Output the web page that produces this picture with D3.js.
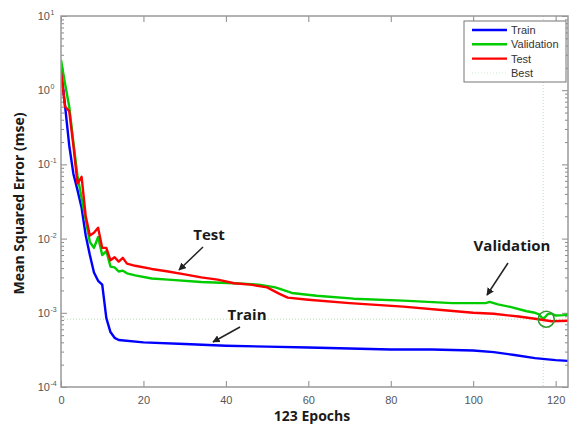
<!DOCTYPE html>
<html>
<head>
<meta charset="utf-8">
<script src="https://cdn.jsdelivr.net/npm/d3@7"></script>
<style>
  body { margin: 0; background: #fff; }
  svg text { font-family: "Liberation Sans", Arial, sans-serif; }
  .bold { font-family: "Open Sans", "Liberation Sans", sans-serif !important; font-weight: 700; }
</style>
</head>
<body>
<div id="chart"></div>
<script>
// values: [epoch, mse]
const trainData = [[0,1.93],[1,0.6],[2,0.18],[3,0.075],[4,0.045],[5,0.026],[6,0.011],[7,0.006],[8,0.0035],[9,0.0027],[10,0.0024],[11,0.00085],[12,0.00055],[13,0.00046],[14,0.00043],[20,0.0004],[30,0.00038],[40,0.00036],[50,0.00035],[60,0.00034],[70,0.00033],[80,0.00032],[90,0.00032],[100,0.00031],[105,0.000295],[110,0.00027],[115,0.000245],[120,0.00023],[123,0.000225]];
const validationData = [[0,2.55],[1,1.2],[2,0.6],[3,0.2],[4,0.07],[5,0.035],[6,0.018],[7,0.009],[8,0.0075],[9,0.0105],[10,0.006],[11,0.0068],[12,0.0042],[13,0.0041],[14,0.0036],[15,0.0037],[16,0.0034],[18,0.0032],[22,0.0029],[26,0.0028],[34,0.0026],[42,0.0025],[48,0.0024],[52,0.0022],[56,0.00185],[62,0.0017],[71,0.00155],[83,0.00146],[95,0.00135],[103,0.00135],[104,0.0014],[106,0.0013],[109,0.0012],[113,0.00105],[115,0.001],[116,0.00095],[117,0.00082],[118,0.00095],[119,0.00098],[120,0.00092],[122,0.00093],[123,0.00095]];
const testData = [[0,1.76],[1,0.6],[2,0.52],[3,0.18],[4,0.055],[5,0.068],[6,0.02],[7,0.011],[8,0.012],[9,0.014],[10,0.0075],[11,0.0075],[12,0.0051],[13,0.0056],[14,0.0049],[15,0.0055],[16,0.0046],[18,0.0043],[22,0.0039],[26,0.0036],[30,0.0033],[34,0.003],[38,0.0028],[42,0.0025],[46,0.0024],[50,0.0022],[53,0.0018],[55,0.0016],[60,0.0015],[70,0.00135],[83,0.00121],[93,0.00108],[100,0.001],[105,0.00097],[111,0.00089],[115,0.00083],[119,0.00077],[123,0.00078]];
const bestEpoch = 117;
const bestValue = 0.00082;
const xTicks = [0, 20, 40, 60, 80, 100, 120];
const yExponents = [-4, -3, -2, -1, 0, 1];
const legendLabels = ["Train", "Validation", "Test", "Best"];

const W = 570, H = 426;
const margin = {top: 16, right: 2, bottom: 39, left: 61};

const svg = d3.select("#chart").append("svg")
    .attr("width", W).attr("height", H);

const x = d3.scaleLinear().domain([0, 123]).range([margin.left, W - margin.right]);
const y = d3.scaleLog().domain([1e-4, 10]).range([H - margin.bottom, margin.top]);

svg.append("defs").append("clipPath").attr("id", "clip")
    .append("rect")
    .attr("x", x(0)).attr("y", y(10))
    .attr("width", x(123) - x(0)).attr("height", y(1e-4) - y(10));

// minor and major y ticks, left and right
let minor = [];
yExponents.slice(0, -1).forEach(e => {
    for (let k = 2; k <= 9; k++) minor.push(k * Math.pow(10, e));
});
const majors = yExponents.map(e => Math.pow(10, e));
const tickColor = "#8a8a8a";

svg.append("g").attr("transform", `translate(${x(0)},0)`)
    .call(d3.axisLeft(y).tickValues(minor).tickSize(-3).tickFormat(""))
    .call(g => g.select(".domain").remove());
svg.append("g").attr("transform", `translate(${x(0)},0)`)
    .call(d3.axisLeft(y).tickValues(majors).tickSize(-6).tickFormat(""))
    .call(g => g.select(".domain").remove());
svg.append("g").attr("transform", `translate(${x(123)},0)`)
    .call(d3.axisRight(y).tickValues(minor).tickSize(-3).tickFormat(""))
    .call(g => g.select(".domain").remove());
svg.append("g").attr("transform", `translate(${x(123)},0)`)
    .call(d3.axisRight(y).tickValues(majors).tickSize(-6).tickFormat(""))
    .call(g => g.select(".domain").remove());

// x ticks bottom and top
svg.append("g").attr("transform", `translate(0,${y(1e-4)})`)
    .call(d3.axisBottom(x).tickValues(xTicks).tickSize(-6).tickPadding(9).tickFormat(d3.format("d")))
    .call(g => g.select(".domain").remove())
    .call(g => g.selectAll("text").attr("fill", "#555").style("font-size", "11px"));
svg.append("g").attr("transform", `translate(0,${y(10)})`)
    .call(d3.axisTop(x).tickValues(xTicks).tickSize(-6).tickFormat(""))
    .call(g => g.select(".domain").remove());

svg.selectAll(".tick line").attr("stroke", tickColor);

// y labels 10^n
const yl = svg.append("g").selectAll("text").data(yExponents).enter()
    .append("text")
    .attr("x", 50)
    .attr("y", d => y(Math.pow(10, d)) + 4)
    .attr("text-anchor", "end")
    .attr("fill", "#555")
    .style("font-size", "11px")
    .text("10");
svg.append("g").selectAll("text").data(yExponents).enter()
    .append("text")
    .attr("x", 50.5)
    .attr("y", d => y(Math.pow(10, d)) - 1)
    .attr("fill", "#555")
    .style("font-size", "7px")
    .text(d => d);

// best lines
const plot = svg.append("g").attr("clip-path", "url(#clip)");
plot.append("line")
    .attr("x1", x(0)).attr("x2", x(123))
    .attr("y1", y(bestValue)).attr("y2", y(bestValue))
    .attr("stroke", "#b6e3b6").attr("stroke-width", 1).attr("stroke-dasharray", "1,2");
plot.append("line")
    .attr("x1", x(bestEpoch)).attr("x2", x(bestEpoch))
    .attr("y1", y(10)).attr("y2", y(1e-4))
    .attr("stroke", "#b6e3b6").attr("stroke-width", 1).attr("stroke-dasharray", "1,2");

const line = d3.line().x(d => x(d[0])).y(d => y(d[1]));
const series = [
    {data: trainData, color: "#0000ff"},
    {data: validationData, color: "#00cc00"},
    {data: testData, color: "#ff0000"}
];
series.forEach(s => {
    plot.append("path")
        .datum(s.data)
        .attr("d", line)
        .attr("fill", "none")
        .attr("stroke", s.color)
        .attr("stroke-width", 2.4)
        .attr("stroke-linejoin", "round");
});

// best circle
svg.append("circle")
    .attr("cx", x(bestEpoch) + 3).attr("cy", y(bestValue))
    .attr("r", 8)
    .attr("fill", "none").attr("stroke", "#2e9a2e").attr("stroke-width", 1.5);

// frame
svg.append("rect")
    .attr("x", x(0)).attr("y", y(10))
    .attr("width", x(123) - x(0)).attr("height", y(1e-4) - y(10))
    .attr("fill", "none").attr("stroke", "#999").attr("stroke-width", 1.5);

// legend
const lg = svg.append("g");
lg.append("rect").attr("x", 464).attr("y", 21).attr("width", 102).attr("height", 61)
    .attr("fill", "#fff").attr("stroke", "#777").attr("stroke-width", 1);
const legendColors = ["#0000ff", "#00cc00", "#ff0000", "#cfeecf"];
legendLabels.forEach((lab, i) => {
    const ly = 30 + i * 14.3;
    lg.append("line").attr("x1", 472).attr("x2", 507).attr("y1", ly).attr("y2", ly)
        .attr("stroke", legendColors[i])
        .attr("stroke-width", i < 3 ? 2.4 : 1)
        .attr("stroke-dasharray", i < 3 ? null : "1,2");
    lg.append("text").attr("x", 511).attr("y", ly + 4)
        .attr("fill", "#333").style("font-size", "11px").text(lab);
});

// axis titles
svg.append("text").attr("class", "bold")
    .attr("transform", `translate(24,${(y(10) + y(1e-4)) / 2 + 2}) rotate(-90)`)
    .attr("text-anchor", "middle")
    .attr("fill", "#1a1a1a")
    .style("font-size", "14px")
    .text("Mean Squared Error (mse)");
svg.append("text").attr("class", "bold")
    .attr("x", 312).attr("y", 421)
    .attr("text-anchor", "middle")
    .attr("fill", "#1a1a1a")
    .style("font-size", "14px")
    .text("123 Epochs");

// annotations with arrows
svg.append("defs").append("marker")
    .attr("id", "arrow").attr("viewBox", "0 0 10 10")
    .attr("refX", 9).attr("refY", 5)
    .attr("markerWidth", 5).attr("markerHeight", 5)
    .attr("orient", "auto")
    .append("path").attr("d", "M0,0L10,5L0,10z").attr("fill", "#222");

const notes = [
    {text: "Test", tx: 209, ty: 240, x1: 203, y1: 247, x2: 179, y2: 270},
    {text: "Train", tx: 247, ty: 320, x1: 240, y1: 327, x2: 213, y2: 342},
    {text: "Validation", tx: 512, ty: 251, x1: 508, y1: 263, x2: 487, y2: 295}
];
notes.forEach(n => {
    svg.append("text").attr("class", "bold")
        .attr("x", n.tx).attr("y", n.ty)
        .attr("text-anchor", "middle")
        .attr("fill", "#1a1a1a")
        .style("font-size", "15px")
        .text(n.text);
    svg.append("line")
        .attr("x1", n.x1).attr("y1", n.y1).attr("x2", n.x2).attr("y2", n.y2)
        .attr("stroke", "#222").attr("stroke-width", 1.5)
        .attr("marker-end", "url(#arrow)");
});
</script>
</body>
</html>
